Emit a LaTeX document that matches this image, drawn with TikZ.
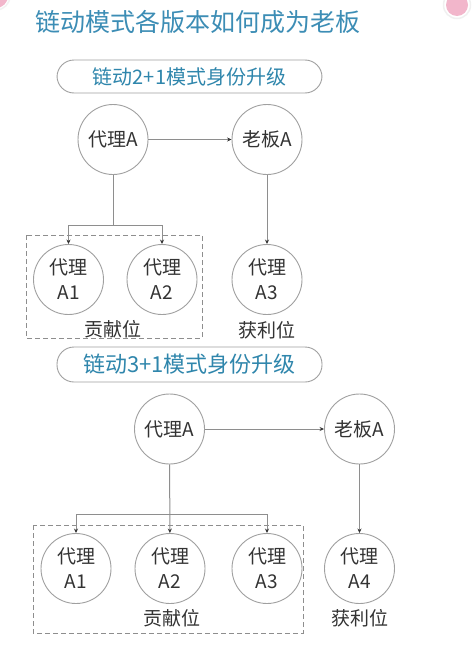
\documentclass[tikz,border=0pt]{standalone}
\usepackage{fontspec}
\setmainfont{Noto Sans CJK SC}
\usetikzlibrary{arrows.meta}
\definecolor{titleblue}{HTML}{3C8DB5}
\definecolor{pilltext}{HTML}{2F86AC}
\definecolor{linegray}{HTML}{8E8E8E}
\definecolor{circgray}{HTML}{A0A0A0}
\definecolor{txt}{HTML}{333333}
\definecolor{pinkdot}{HTML}{F2B6CB}
\tikzset{
  person/.style={circle,draw=circgray,line width=0.9pt,minimum size=70pt,inner sep=0pt,
    font=\fontsize{19}{25}\selectfont,text=txt,align=center},
  pill/.style={draw=circgray,line width=0.9pt,rounded corners=17pt,minimum width=265pt,
    text=pilltext,inner sep=0pt},
  conn/.style={draw=linegray,line width=1pt},
  arr/.style={conn,-{Stealth[length=4.5pt,width=4pt,color=txt]}},
  grp/.style={draw=linegray,line width=1pt,dash pattern=on 5pt off 3pt},
  lbl/.style={font=\fontsize{19}{22}\selectfont,text=txt,inner sep=0pt}
}
\begin{document}
\begin{tikzpicture}[x=1pt,y=-1pt]
\useasboundingbox (0,0) rectangle (475,645);
\fill[white] (0,0) rectangle (475,645);
% corner decorations
\fill[pinkdot] (-4,-4) circle (12);
\draw[white!90!gray,line width=1.5pt] (-4,-4) circle (14);
\fill[pinkdot] (457,5) circle (11);
\draw[white!88!gray,line width=1.5pt] (457,5) circle (13.5);
% title
\node[text=titleblue,font=\fontsize{25}{28}\selectfont,inner sep=0pt] (title) at (198,22) {链动模式各版本如何成为老板};
% ---- section 1 ----
\node[pill,minimum height=33pt,font=\fontsize{20}{22}\selectfont] (p1) at (189.5,76.5) {链动2+1模式身份升级};
\node[person] (A) at (113,139.5) {代理A};
\node[person] (B) at (267,139.5) {老板A};
\node[person] (A1) at (68.5,279.5) {代理\\A1};
\node[person] (A2) at (162,279.5) {代理\\A2};
\node[person] (A3) at (267,279.5) {代理\\A3};
\draw[grp] (26,235) rectangle (202,338);
\node[lbl] (g1) at (113,329) {贡献位};
\node[lbl] (h1) at (267,330) {获利位};
\coordinate (j1) at (113,225);
\draw[arr] (A) -- (B);
\draw[conn] (A) -- (j1);
\draw[arr] (j1) -| (A1);
\draw[arr] (j1) -| (A2);
\draw[arr] (B) -- (A3);
% ---- section 2 ----
\node[pill,minimum height=35pt,font=\fontsize{22}{24}\selectfont] (p2) at (189.5,364.5) {链动3+1模式身份升级};
\node[person] (C) at (169.5,429) {代理A};
\node[person] (D) at (359.5,429) {老板A};
\node[person] (C1) at (76,568.5) {代理\\A1};
\node[person] (C2) at (170,568.5) {代理\\A2};
\node[person] (C3) at (267,568.5) {代理\\A3};
\node[person] (C4) at (359.5,568.5) {代理\\A4};
\draw[grp] (33,525) rectangle (303,633);
\node[lbl] (g2) at (172,618) {贡献位};
\node[lbl] (h2) at (359.5,618) {获利位};
\coordinate (j2) at (169.5,514);
\draw[arr] (C) -- (D);
\draw[arr] (C) -- (C2);
\draw[arr] (j2) -| (C1);
\draw[arr] (j2) -| (C3);
\draw[arr] (D) -- (C4);
\end{tikzpicture}
\end{document}
